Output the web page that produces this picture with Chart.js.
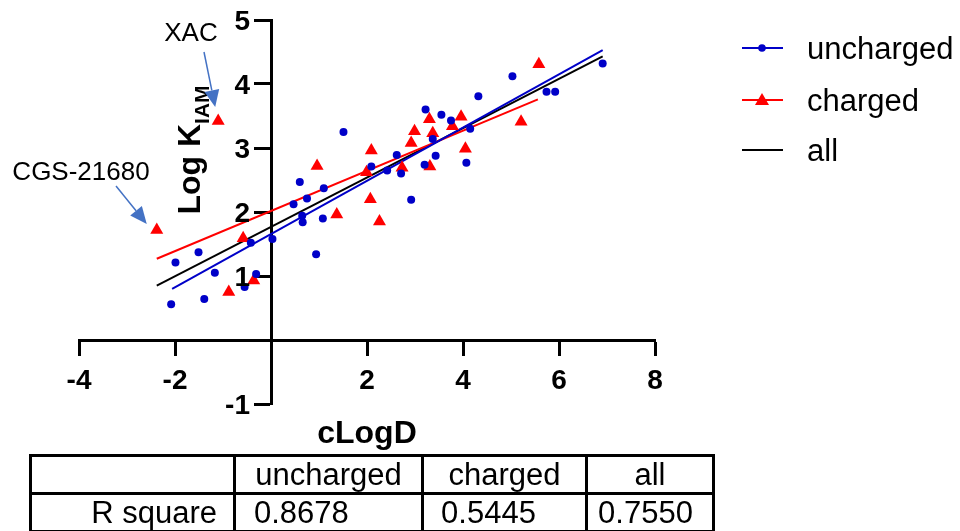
<!DOCTYPE html>
<html>
<head>
<meta charset="utf-8">
<script src="https://cdn.jsdelivr.net/npm/chart.js@4.4.1/dist/chart.umd.min.js"></script>
<style>
  html, body { margin: 0; padding: 0; background: #fff; }
  #wrap { position: relative; width: 960px; height: 531px; overflow: hidden; }
  #chart { position: absolute; left: 0; top: 0; }
  #stats {
    position: absolute; left: 29px; top: 454px;
    border-collapse: collapse;
    font-family: "Liberation Sans", Arial, sans-serif; font-size: 31px; color: #000;
  }
  #stats td { border: 3px solid #000; height: 35px; line-height: 35px; padding: 0; white-space: nowrap; box-sizing: content-box; }
</style>
</head>
<body>
<div id="wrap">
  <canvas id="chart" width="960" height="531"></canvas>
  <table id="stats"></table>
</div>
<script>
// points (cLogD, Log K_IAM)
const unchargedX = [-2.08, -1.99, -1.51, -1.39, -1.17, -0.55, -0.42, -0.31, 0.03, 0.47, 0.60, 0.65, 0.66, 0.75,
  0.94, 1.08, 1.10, 1.51, 2.09, 2.42, 2.62, 2.71, 2.92, 3.20, 3.22, 3.37, 3.43, 3.55, 3.75, 4.07, 4.15, 4.32,
  5.03, 5.74, 5.92, 6.91];
const unchargedY = [0.56, 1.21, 1.37, 0.64, 1.05, 0.83, 1.52, 1.03, 1.58, 2.12, 2.47, 1.94, 1.84, 2.21,
  1.34, 1.90, 2.37, 3.25, 2.71, 2.65, 2.89, 2.60, 2.19, 2.74, 3.60, 3.14, 2.88, 3.52, 3.43, 2.77, 3.30, 3.81,
  4.12, 3.88, 3.88, 4.32];

const chargedX = [-2.38, -1.10, -0.88, -0.58, -0.36, 0.96, 1.37, 1.99, 2.07, 2.09, 2.26, 2.73, 2.92, 2.99,
  3.30, 3.31, 3.37, 3.78, 3.96, 4.05, 5.21, 5.58];
const chargedY = [1.72, 3.42, 0.75, 1.59, 0.93, 2.72, 1.96, 2.62, 2.20, 2.96, 1.85, 2.69, 3.08, 3.26,
  3.45, 2.71, 3.23, 3.34, 3.49, 2.99, 3.41, 4.31];

// regression line end points
const fitUnchargedX = [-2.06, 6.91];
const fitUnchargedY = [0.80, 4.53];
const fitChargedX = [-2.38, 5.56];
const fitChargedY = [1.27, 3.76];
const fitAllX = [-2.38, 6.91];
const fitAllY = [0.85, 4.43];

const xTicks = [-4, -2, 2, 4, 6, 8];
const yTicks = [-1, 1, 2, 3, 4, 5];

const legendLabels = ["uncharged", "charged", "all"];
const tableHeader = ["", "uncharged", "charged", "all"];
const rowLabel = "R square";
const rSquare = ["0.8678", "0.5445", "0.7550"];

const BLUE = "#0000c8";
const RED = "#ff0000";
const ARROW = "#4472c4";
const FONT = "'Liberation Sans', Arial, sans-serif";

const toPoints = (xs, ys) => xs.map((x, i) => ({ x: x, y: ys[i] }));

// table under the chart
const table = document.getElementById("stats");
const widths = [201, 185, 161, 124];
const aligns = [["center", "center", "center", "center"], ["right", "left", "center", "center"]];
// [left, right] padding per cell
const pads = [[[0, 0], [0, 0], [0, 0], [0, 0]], [[0, 16], [18, 0], [0, 32], [0, 9]]];
[tableHeader, [rowLabel].concat(rSquare)].forEach((row, r) => {
  const tr = document.createElement("tr");
  row.forEach((txt, c) => {
    const td = document.createElement("td");
    const [pl, pr] = pads[r][c];
    td.textContent = txt;
    td.style.padding = "0 " + pr + "px 0 " + pl + "px";
    td.style.width = (widths[c] - pl - pr) + "px";
    td.style.textAlign = aligns[r][c];
    tr.appendChild(td);
  });
  table.appendChild(tr);
});

function arrow(ctx, x1, y1, x2, y2) {
  const a = Math.atan2(y2 - y1, x2 - x1);
  const len = 17, half = 7.5;
  const bx = x2 - Math.cos(a) * len, by = y2 - Math.sin(a) * len;
  ctx.strokeStyle = ARROW;
  ctx.fillStyle = ARROW;
  ctx.lineWidth = 1.5;
  ctx.beginPath();
  ctx.moveTo(x1, y1);
  ctx.lineTo(bx, by);
  ctx.stroke();
  ctx.beginPath();
  ctx.moveTo(x2, y2);
  ctx.lineTo(bx + Math.sin(a) * half, by - Math.cos(a) * half);
  ctx.lineTo(bx - Math.sin(a) * half, by + Math.cos(a) * half);
  ctx.closePath();
  ctx.fill();
}

const extras = {
  id: "extras",
  afterDraw(chart) {
    const ctx = chart.ctx;
    const xs = chart.scales.x, ys = chart.scales.y;
    ctx.save();

    // y tick labels sit left of the crossing axis
    ctx.fillStyle = "#000";
    ctx.font = "bold 28px " + FONT;
    ctx.textAlign = "right";
    ctx.textBaseline = "middle";
    const axisX = xs.getPixelForValue(0);
    ys.ticks.forEach((t) => {
      ctx.fillText(String(t.value), axisX - 21, ys.getPixelForValue(t.value) + 2);
    });

    // x title
    ctx.font = "bold 32px " + FONT;
    ctx.textAlign = "center";
    ctx.textBaseline = "alphabetic";
    ctx.fillText("cLogD", xs.getPixelForValue(2), 443);

    // y title with subscript
    ctx.save();
    ctx.font = "bold 32px " + FONT;
    const mainW = ctx.measureText("Log K").width;
    ctx.font = "bold 21px " + FONT;
    const subW = ctx.measureText("IAM").width;
    ctx.translate(200, ys.getPixelForValue(3) + 2);
    ctx.rotate(-Math.PI / 2);
    ctx.textAlign = "left";
    const start = -(mainW + subW) / 2;
    ctx.font = "bold 32px " + FONT;
    ctx.fillText("Log K", start, 0);
    ctx.font = "bold 21px " + FONT;
    ctx.fillText("IAM", start + mainW, 9);
    ctx.restore();

    // annotations
    ctx.font = "26px " + FONT;
    ctx.textAlign = "center";
    ctx.fillStyle = "#000";
    ctx.fillText("XAC", 191, 41);
    ctx.fillText("CGS-21680", 81, 180);
    const xac = [xs.getPixelForValue(chargedX[1]), ys.getPixelForValue(chargedY[1])];
    const cgs = [xs.getPixelForValue(chargedX[0]), ys.getPixelForValue(chargedY[0])];
    arrow(ctx, 204, 52, xac[0] - 3, xac[1] - 14);
    arrow(ctx, 116, 186, cgs[0] - 10, cgs[1] - 6);

    // legend
    const ly = [48, 100, 150];
    const lc = [BLUE, RED, "#000"];
    ctx.font = "31px " + FONT;
    ctx.textAlign = "left";
    ctx.textBaseline = "middle";
    legendLabels.forEach((lab, i) => {
      ctx.strokeStyle = lc[i];
      ctx.lineWidth = 2;
      ctx.beginPath();
      ctx.moveTo(742, ly[i]);
      ctx.lineTo(783, ly[i]);
      ctx.stroke();
      ctx.fillStyle = lc[i];
      if (i === 0) {
        ctx.beginPath();
        ctx.arc(762, ly[i], 3.8, 0, Math.PI * 2);
        ctx.fill();
      } else if (i === 1) {
        ctx.beginPath();
        ctx.moveTo(762, ly[i] - 7);
        ctx.lineTo(769, ly[i] + 5);
        ctx.lineTo(755, ly[i] + 5);
        ctx.closePath();
        ctx.fill();
      }
      ctx.fillStyle = "#000";
      ctx.fillText(lab, 807, ly[i] + 2);
    });
    ctx.restore();
  }
};

const tickFont = { family: FONT, size: 28, weight: "bold" };

new Chart(document.getElementById("chart").getContext("2d"), {
  type: "scatter",
  data: {
    datasets: [
      {
        label: "uncharged",
        data: toPoints(unchargedX, unchargedY),
        pointStyle: "circle",
        pointRadius: 4,
        backgroundColor: BLUE,
        borderColor: BLUE,
        borderWidth: 0
      },
      {
        label: "charged",
        data: toPoints(chargedX, chargedY),
        pointStyle: "triangle",
        pointRadius: 7.5,
        backgroundColor: RED,
        borderColor: RED,
        borderWidth: 0
      },
      {
        label: "uncharged fit",
        data: toPoints(fitUnchargedX, fitUnchargedY),
        showLine: true,
        pointRadius: 0,
        borderColor: BLUE,
        borderWidth: 2
      },
      {
        label: "charged fit",
        data: toPoints(fitChargedX, fitChargedY),
        showLine: true,
        pointRadius: 0,
        borderColor: RED,
        borderWidth: 2
      },
      {
        label: "all",
        data: toPoints(fitAllX, fitAllY),
        showLine: true,
        pointRadius: 0,
        borderColor: "#000",
        borderWidth: 2
      }
    ]
  },
  options: {
    responsive: false,
    animation: false,
    layout: { padding: { left: 79, right: 305, top: 20, bottom: 127 } },
    plugins: {
      legend: { display: false },
      tooltip: { enabled: false }
    },
    scales: {
      x: {
        type: "linear",
        position: { y: 0 },
        min: -4,
        max: 8,
        afterBuildTicks: (s) => { s.ticks = xTicks.map((v) => ({ value: v })); },
        grid: { drawOnChartArea: false, drawTicks: true, tickLength: 14, tickWidth: 3, tickColor: "#000" },
        border: { display: true, color: "#000", width: 3 },
        ticks: { color: "#000", font: tickFont, padding: 10, autoSkip: false, maxRotation: 0 }
      },
      y: {
        type: "linear",
        position: { x: 0 },
        min: -1,
        max: 5,
        afterBuildTicks: (s) => { s.ticks = yTicks.map((v) => ({ value: v })); },
        grid: { drawOnChartArea: false, drawTicks: true, tickLength: 16, tickWidth: 3, tickColor: "#000" },
        border: { display: true, color: "#000", width: 3 },
        ticks: { display: false }
      }
    }
  },
  plugins: [extras]
});
</script>
</body>
</html>
